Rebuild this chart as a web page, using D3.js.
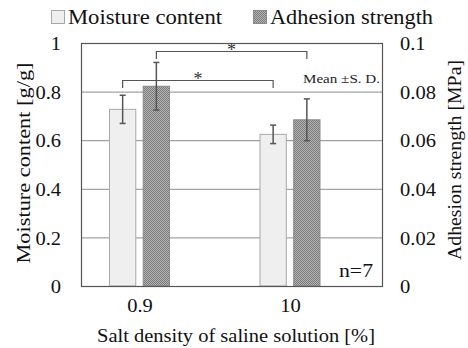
<!DOCTYPE html>
<html><head><meta charset="utf-8">
<script src="https://cdn.jsdelivr.net/npm/d3@7"></script>
<style>body{margin:0;background:#fff}svg text{font-family:'Liberation Serif','Tinos','Times New Roman','DejaVu Serif',serif !important}</style>
</head><body><svg id="c" width="468" height="348"></svg>
<script>
const categories = ["0.9", "10"];
const moistureMean = [0.727, 0.624];
const moistureSD = [0.058, 0.038];
const adhesionMean = [0.0822, 0.0684];
const adhesionSD = [0.0098, 0.0086];
const leftTicks = [0, 0.2, 0.4, 0.6, 0.8, 1];
const rightTicks = [0, 0.02, 0.04, 0.06, 0.08, 0.1];
const seriesNames = ["Moisture content", "Adhesion strength"];

const svg = d3.select("#c");
const L = 81, R = 382, T = 43, B = 286;
const yL = d3.scaleLinear().domain([0, 1]).range([B, T]);
const yR = d3.scaleLinear().domain([0, 0.1]).range([B, T]);
const x = d3.scalePoint().domain(categories).range([139.5, 290]);
const sub = d3.scaleBand().domain([0, 1]).range([-30, 30]).paddingInner(0.22);

const defs = svg.append("defs");
const pat = defs.append("pattern").attr("id", "hatch").attr("width", 2).attr("height", 2).attr("patternUnits", "userSpaceOnUse");
pat.append("rect").attr("width", 2).attr("height", 2).attr("fill", "#b4b4b4");
pat.append("rect").attr("width", 1).attr("height", 1).attr("fill", "#7a7a7a");
pat.append("rect").attr("x", 1).attr("y", 1).attr("width", 1).attr("height", 1).attr("fill", "#7a7a7a");

// width estimate to stretch text to the reference's measured widths
function fitWidth(sel, px) { sel.attr("textLength", px).attr("lengthAdjust", "spacingAndGlyphs"); return sel; }
function estW(s) { let w = 0; for (const ch of s) w += ch === "." ? 5 : 10.3; return w; }

// gridlines
svg.append("g").selectAll("line").data(leftTicks.filter(d => d > 0 && d < 1)).join("line")
  .attr("x1", L).attr("x2", R).attr("y1", d => yL(d) + 0.5).attr("y2", d => yL(d) + 0.5)
  .attr("stroke", "#8c8c8c").attr("stroke-width", 1);

// bars
const g = svg.append("g");
categories.forEach((c, i) => {
  const x0 = x(c) + sub(0), x1 = x(c) + sub(1), w = sub.bandwidth();
  g.append("rect").attr("x", x0).attr("y", yL(moistureMean[i])).attr("width", w)
    .attr("height", B - yL(moistureMean[i])).attr("fill", "#efefef").attr("stroke", "#a8a8a8").attr("stroke-width", 1);
  g.append("rect").attr("x", x1).attr("y", yR(adhesionMean[i])).attr("width", w)
    .attr("height", B - yR(adhesionMean[i])).attr("fill", "url(#hatch)").attr("stroke", "#8a8a8a").attr("stroke-width", 1);
  const eb = (cx, y1, y2) => {
    g.append("line").attr("x1", cx).attr("x2", cx).attr("y1", y1).attr("y2", y2).attr("stroke", "#555").attr("stroke-width", 1.5);
    [y1, y2].forEach(yy => g.append("line").attr("x1", cx - 3).attr("x2", cx + 3).attr("y1", yy).attr("y2", yy).attr("stroke", "#555").attr("stroke-width", 1.5));
  };
  eb(x0 + w / 2, yL(moistureMean[i] + moistureSD[i]), yL(moistureMean[i] - moistureSD[i]));
  eb(x1 + w / 2, yR(adhesionMean[i] + adhesionSD[i]), yR(adhesionMean[i] - adhesionSD[i]));
});

// frame
svg.append("rect").attr("x", L + 0.5).attr("y", T + 0.5).attr("width", R - L).attr("height", B - T)
  .attr("fill", "none").attr("stroke", "#555").attr("stroke-width", 1.2);

// significance brackets
function bracket(xa, xb, yTop, yEnd) {
  svg.append("path").attr("d", `M${xa},${yEnd}V${yTop}H${xb}V${yEnd}`).attr("fill", "none").attr("stroke", "#555").attr("stroke-width", 1.2);
  svg.append("text").attr("x", (xa + xb) / 2).attr("y", yTop + 4).attr("text-anchor", "middle").attr("font-size", 18).attr("fill", "#333").text("*");
}
bracket(x(categories[0]) + sub(0) + sub.bandwidth() / 2, x(categories[1]) + sub(0) + sub.bandwidth() / 2, 80.5, 88);
bracket(x(categories[0]) + sub(1) + sub.bandwidth() / 2, x(categories[1]) + sub(1) + sub.bandwidth() / 2, 51.5, 59);

fitWidth(svg.append("text").attr("x", 380).attr("y", 83).attr("text-anchor", "end").attr("font-size", 12).attr("fill", "#222").text("Mean \u00b1S. D."), 77);
fitWidth(svg.append("text").attr("x", 373).attr("y", 277).attr("text-anchor", "end").attr("font-size", 18).attr("fill", "#111").text("n=7"), 34);

// axes
const axL = svg.append("g").attr("transform", `translate(${L},0)`)
  .call(d3.axisLeft(yL).tickValues(leftTicks).tickFormat(d3.format("")).tickSize(0).tickPadding(20));
const axR = svg.append("g").attr("transform", `translate(${R},0)`)
  .call(d3.axisRight(yR).tickValues(rightTicks).tickFormat(d => d === 0 ? "0" : d3.format("")(+d.toFixed(2))).tickSize(0).tickPadding(18));
const axB = svg.append("g").attr("transform", `translate(0,${B})`)
  .call(d3.axisBottom(x).tickSize(0).tickPadding(13));
[axL, axR, axB].forEach(a => {
  a.select(".domain").remove();
  a.attr("font-family", null);
  a.selectAll("text").attr("font-size", 19).attr("fill", "#111")
    .each(function () { const t = d3.select(this); fitWidth(t, estW(t.text())); });
});
axL.selectAll("text").attr("dy", "0.35em");
axR.selectAll("text").attr("dy", "0.35em");

// axis titles
fitWidth(svg.append("text").attr("transform", `translate(30,163) rotate(-90)`).attr("text-anchor", "middle")
  .attr("font-size", 19).attr("fill", "#111").text("Moisture content [g/g]"), 201);
fitWidth(svg.append("text").attr("transform", `translate(461,160) rotate(-90)`).attr("text-anchor", "middle")
  .attr("font-size", 19).attr("fill", "#111").text("Adhesion strength [MPa]"), 200);
fitWidth(svg.append("text").attr("x", 236).attr("y", 342).attr("text-anchor", "middle")
  .attr("font-size", 19).attr("fill", "#111").text("Salt density of saline solution [%]"), 278);

// legend
const lg = svg.append("g");
const legX = [51, 253];
const legW = [154, 163];
seriesNames.forEach((n, i) => {
  lg.append("rect").attr("x", legX[i] + 0.5).attr("y", 10.5).attr("width", 13).attr("height", 13)
    .attr("fill", i === 0 ? "#efefef" : "url(#hatch)").attr("stroke", i === 0 ? "#a8a8a8" : "#8a8a8a");
  fitWidth(lg.append("text").attr("x", legX[i] + 17).attr("y", 24).attr("font-size", 20).attr("fill", "#111").text(n), legW[i]);
});
</script></body></html>
